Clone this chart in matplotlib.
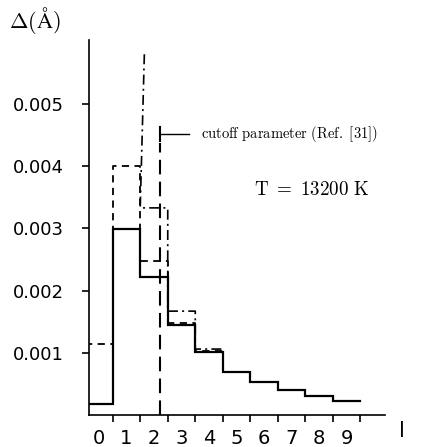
import numpy as np
import matplotlib
matplotlib.use("Agg")
import matplotlib.pyplot as plt

plt.rcParams['mathtext.fontset'] = 'cm'

# data
l = np.arange(10)
solid = [0.00017, 0.00299, 0.00222, 0.00145, 0.00101, 0.00069, 0.00053, 0.00040, 0.00031, 0.00023]
dashed_l = np.arange(5)
dashed = [0.00114, 0.00400, 0.00248, 0.00148, 0.00103]
dashdot_l = np.arange(1, 5)
dashdot = [0.00580, 0.00333, 0.00167, 0.00106]
cutoff_l = 2.23
cutoff_top = 0.00463

yticks = [0.001, 0.002, 0.003, 0.004, 0.005]
yticklabels = ['0.001', '0.002', '0.003', '0.004', '0.005']


def steps(ls, vals):
    ls = np.asarray(ls, dtype=float)
    edges = np.append(ls - 0.5, ls[-1] + 0.5)
    xs = np.repeat(edges, 2)[1:-1]
    ys = np.repeat(vals, 2)
    return xs, ys


fig = plt.figure(figsize=(4.28, 4.47), dpi=100)
ax = fig.add_axes([0.208, 0.0716, 0.692, 0.839])

x, y = steps(l, solid)
ax.plot(x, y, color='black', lw=1.6, solid_joinstyle='miter')

x, y = steps(dashed_l, dashed)
ax.plot(x, y, color='black', lw=1.3, ls=(0, (4, 3)))

x, y = steps(dashdot_l, dashdot)
x[0:2] = 1.65  # drop the horizontal part above the frame
ax.plot(x[1:], y[1:], color='black', lw=1.2, ls=(0, (6, 2.5, 1.2, 2.5)))

# cutoff marker with its label
ax.plot([cutoff_l, cutoff_l], [0, cutoff_top - 0.00025], color='black', lw=1.5, ls=(0, (7, 3.5)))
ax.plot([cutoff_l, cutoff_l], [cutoff_top - 0.00022, cutoff_top], color='black', lw=1.5)
ax.plot([cutoff_l, cutoff_l + 1.06], [cutoff_top - 0.00011, cutoff_top - 0.00011], color='black', lw=1.0)
ax.text(cutoff_l + 1.49, cutoff_top - 0.00011, r'$\mathrm{cutoff\ parameter\ (Ref.\ [31])}$',
        fontsize=10.5, va='center', ha='left')
ax.text(5.64, 0.00362, r'$\mathrm{T\ =\ 13200\ K}$', fontsize=13.7, va='center', ha='left')

ax.set_xlim(-0.36, 10.4)
ax.set_ylim(0, 0.00603)
for s in ['top', 'right']:
    ax.spines[s].set_visible(False)
ax.spines['left'].set_linewidth(1.2)
ax.spines['bottom'].set_linewidth(1.2)

ax.set_yticks(yticks)
ax.set_yticklabels(yticklabels, fontsize=13)
ax.tick_params(axis='y', direction='out', length=5, width=1.2, pad=13)

ax.set_xticks(np.arange(10) + 0.5)
ax.set_xticklabels([])
ax.set_xticks(l, minor=True)
ax.set_xticklabels([str(v) for v in l], minor=True, fontsize=14)
ax.tick_params(axis='x', which='major', direction='out', length=5, width=1.2)
ax.tick_params(axis='x', which='minor', length=0, pad=10)

fig.text(0.02, 0.955, r'$\Delta(\mathrm{\AA})$', fontsize=16, ha='left', va='center')
fig.text(0.94, 0.035, 'l', fontsize=15, ha='center', va='center')

fig.savefig('out.png', dpi=100)
